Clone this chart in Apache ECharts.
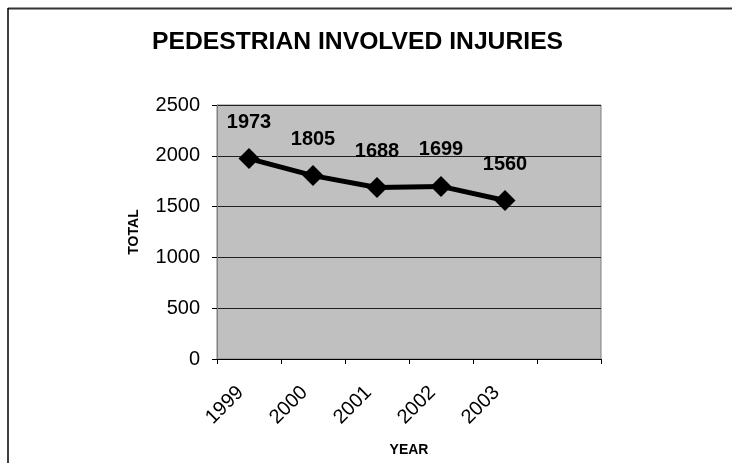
<!DOCTYPE html>
<html>
<head>
<meta charset="utf-8">
<script src="https://cdn.jsdelivr.net/npm/echarts@6/dist/echarts.min.js"></script>
<style>
  html, body { margin: 0; padding: 0; background: #fff; }
  #chart { width: 732px; height: 463px; }
</style>
</head>
<body>
<div id="chart"></div>
<script>
// categories (last slot is empty, as in the original sheet)
const years = ['1999', '2000', '2001', '2002', '2003', '']
const injuries = [1973, 1805, 1688, 1699, 1560]
const yTicks = { min: 0, max: 2500, interval: 500 }

const font = "'Liberation Sans', Arial, sans-serif"

const chart = echarts.init(document.getElementById('chart'))

chart.setOption({
  backgroundColor: '#fff',
  animation: false,
  title: {
    text: 'PEDESTRIAN INVOLVED INJURIES',
    left: 147,
    top: 25,
    textStyle: { fontFamily: font, fontSize: 24.7, fontWeight: 'bold', color: '#000' }
  },
  grid: {
    left: 217,
    right: 131,
    top: 105,
    bottom: 104,
    show: true,
    backgroundColor: '#c0c0c0',
    borderColor: '#808080',
    borderWidth: 1
  },
  xAxis: {
    type: 'category',
    data: years,
    boundaryGap: true,
    name: 'YEAR',
    nameLocation: 'middle',
    nameGap: 84,
    nameTextStyle: { fontFamily: font, fontSize: 14, fontWeight: 'bold', color: '#000' },
    axisLine: { lineStyle: { color: '#000', width: 1 } },
    axisTick: { show: true, length: 5, inside: false, lineStyle: { color: '#000' } },
    axisLabel: {
      rotate: 45,
      margin: 22,
      padding: [0, 12, 0, 0],
      interval: 0,
      fontFamily: font,
      fontSize: 20,
      color: '#000'
    },
    splitLine: { show: false }
  },
  yAxis: {
    type: 'value',
    min: yTicks.min,
    max: yTicks.max,
    interval: yTicks.interval,
    name: 'TOTAL',
    nameLocation: 'middle',
    nameGap: 76,
    nameRotate: 90,
    nameTextStyle: { fontFamily: font, fontSize: 14, fontWeight: 'bold', color: '#000' },
    axisLine: { show: true, lineStyle: { color: '#808080', width: 1 } },
    axisTick: { show: true, length: 5, inside: false, lineStyle: { color: '#000' } },
    axisLabel: {
      margin: 17,
      fontFamily: font,
      fontSize: 20,
      color: '#000',
      formatter: v => String(v)
    },
    splitLine: { show: true, lineStyle: { color: '#202020', width: 1 } }
  },
  series: [
    {
      type: 'line',
      data: injuries,
      symbol: 'diamond',
      symbolSize: 21,
      itemStyle: { color: '#000' },
      lineStyle: { color: '#000', width: 5 },
      label: {
        show: true,
        position: 'top',
        distance: 16,
        fontFamily: font,
        fontSize: 20,
        fontWeight: 'bold',
        color: '#000'
      }
    }
  ],
  graphic: [
    {
      type: 'line',
      shape: { x1: 8, y1: 8.5, x2: 732, y2: 8.5 },
      style: { stroke: '#333', lineWidth: 2 }
    },
    {
      type: 'line',
      shape: { x1: 8, y1: 8, x2: 8, y2: 463 },
      style: { stroke: '#000', lineWidth: 1.5 }
    }
  ]
})
</script>
</body>
</html>
